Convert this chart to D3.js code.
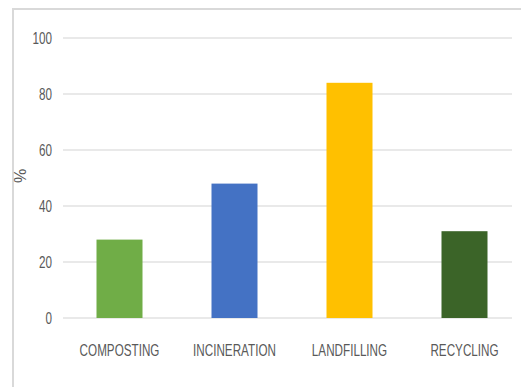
<!DOCTYPE html>
<html>
<head>
<meta charset="utf-8">
<script src="https://cdn.jsdelivr.net/npm/d3@7"></script>
<style>
  body { margin: 0; background: #fff; }
  svg { display: block; }
</style>
</head>
<body>
<svg id="chart" width="521" height="387"></svg>
<script>
// Waste treatment shares
const categories = ["COMPOSTING", "INCINERATION", "LANDFILLING", "RECYCLING"];
const values = [28, 48, 84, 31];
const colors = ["#70AD47", "#4472C4", "#FFC000", "#3B6428"];
const yTicks = [0, 20, 40, 60, 80, 100];

const svg = d3.select("#chart");
const font = "'Liberation Sans', Arial, sans-serif";
const squeeze = 0.73; // the original labels are a condensed face

// light frame on the left and top
svg.append("path")
  .attr("d", "M13,387 V9 H521")
  .attr("fill", "none")
  .attr("stroke", "#d9d9d9")
  .attr("stroke-width", 2);

const x = d3.scaleBand().domain(categories).range([62, 522])
  .paddingInner(0.6).paddingOuter(0.3);
const y = d3.scaleLinear().domain([0, 100]).range([318, 38]);

// gridlines
svg.append("g")
  .selectAll("line")
  .data(yTicks)
  .join("line")
  .attr("x1", 63).attr("x2", 512)
  .attr("y1", d => y(d)).attr("y2", d => y(d))
  .attr("stroke", "#e2e2e2")
  .attr("stroke-width", 1.5);

// y tick labels
svg.append("g")
  .selectAll("text")
  .data(yTicks)
  .join("text")
  .attr("transform", d => `translate(52,${y(d)}) scale(${squeeze},1)`)
  .attr("dy", "0.35em")
  .attr("text-anchor", "end")
  .attr("fill", "#595959")
  .style("font", `16px ${font}`)
  .text(d => d);

svg.append("text")
  .attr("transform", "translate(26,176) rotate(-90)")
  .attr("text-anchor", "middle")
  .attr("fill", "#595959")
  .style("font", `16px ${font}`)
  .text("%");

// bars
svg.append("g")
  .selectAll("rect")
  .data(values)
  .join("rect")
  .attr("x", (d, i) => x(categories[i]))
  .attr("width", x.bandwidth())
  .attr("y", d => y(d))
  .attr("height", d => y(0) - y(d))
  .attr("fill", (d, i) => colors[i]);

// category labels
svg.append("g")
  .selectAll("text")
  .data(categories)
  .join("text")
  .attr("transform", d => `translate(${x(d) + x.bandwidth() / 2},350) scale(${squeeze},1)`)
  .attr("dy", "0.35em")
  .attr("text-anchor", "middle")
  .attr("fill", "#595959")
  .style("font", `16px ${font}`)
  .text(d => d);
</script>
</body>
</html>
